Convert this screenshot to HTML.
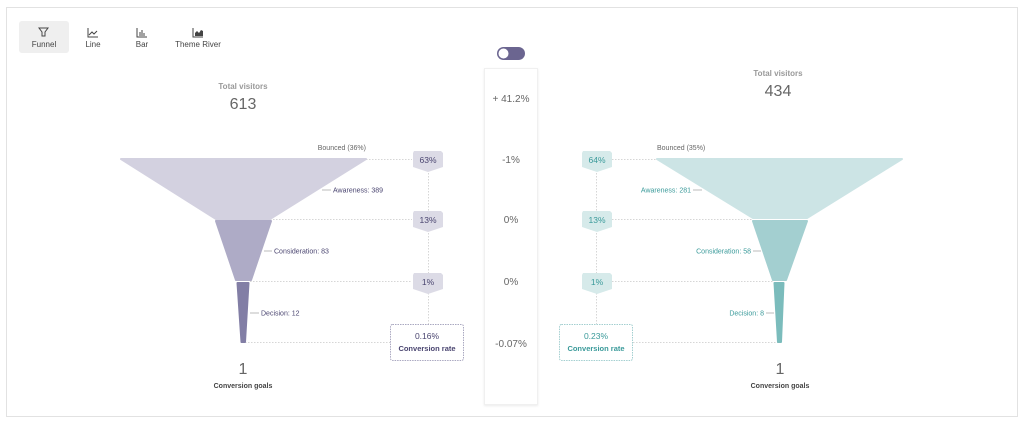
<!DOCTYPE html>
<html><head><meta charset="utf-8"><style>
html,body{margin:0;padding:0;background:#fff;}
svg{display:block;font-family:"Liberation Sans",sans-serif;}
</style></head><body>
<svg width="1024" height="424" viewBox="0 0 1024 424">
<rect x="6.5" y="7.5" width="1011" height="409" fill="#fff" stroke="#e2e2e2"/>
<rect x="19" y="21" width="50" height="32" rx="3" fill="#efefef"/>
<g stroke="#444" fill="none" stroke-width="1">
<path d="M39 28h9l-3 4v4h-3v-4z"/>
<path d="M88 28v9h10M89 35l3-3 2 2 3-3"/>
<path d="M137 28v9h10M140 36v-4M142 36v-6M144 36v-3"/>
<path d="M193 28v9h10"/>
</g>
<path d="M195 36v-3l2-2 2 2 2-3 2 1v5z" fill="#444"/>
<g font-size="8" fill="#444" text-anchor="middle">
<text x="44" y="47">Funnel</text><text x="93" y="47">Line</text><text x="142" y="47">Bar</text><text x="198" y="47">Theme River</text>
</g>
<rect x="497" y="47" width="28" height="13" rx="6.5" fill="#6b6590"/>
<circle cx="503.5" cy="53.5" r="5" fill="#fff"/>
<rect x="484.5" y="68.5" width="53" height="336" fill="#fff" stroke="#f0f0f0" style="filter:drop-shadow(0 1px 1px rgba(0,0,0,.08))"/>
<g font-size="10" fill="#666" text-anchor="middle">
<text x="511" y="102">+ 41.2%</text><text x="511" y="163">-1%</text><text x="511" y="223">0%</text><text x="511" y="285">0%</text><text x="511" y="347">-0.07%</text>
</g>
<text x="243" y="89" font-size="8" font-weight="bold" fill="#999" text-anchor="middle">Total visitors</text>
<text x="243" y="109" font-size="16" fill="#666" text-anchor="middle">613</text>
<g stroke="#d6d6d6" stroke-dasharray="1.5 1.5" stroke-width="1">
<path d="M366 159.5H412M270 219.5H412M250 281.5H412M245 342.5H390M428.5 167V324"/>
<path d="M596.5 167V324M612 159.5H657M612 219.5H753M612 281.5H774M633 342.5H779"/>
</g>
<path d="M121 159H366L270 219H216Z" fill="#d3d1e0" stroke="#d3d1e0" stroke-linejoin="round" stroke-width="2"/>
<path d="M216 221H271L251 280H236Z" fill="#aeabc6" stroke="#aeabc6" stroke-linejoin="round" stroke-width="2"/>
<path d="M237.5 283H248.5L245 342H241.5Z" fill="#827ea5" stroke="#827ea5" stroke-linejoin="round" stroke-width="2"/>
<text x="366" y="150" font-size="7" fill="#666" text-anchor="end">Bounced (36%)</text>
<g font-size="7" fill="#4a4570">
<path d="M322 190h9M264 251h8M250 313h9" stroke="#bbb"/>
<text x="333" y="192.5">Awareness: 389</text><text x="274" y="253.5">Consideration: 83</text><text x="261" y="315.5">Decision: 12</text>
</g>
<g fill="#dcdbe6">
<path d="M414 151h27l2 2v14l-15 5-15-5v-14z"/>
<path d="M414 211h27l2 2v14l-15 5-15-5v-14z"/>
<path d="M414 273h27l2 2v14l-15 5-15-5v-14z"/>
</g>
<g font-size="8.5" fill="#4a4570" text-anchor="middle">
<text x="428" y="163">63%</text><text x="428" y="223">13%</text><text x="428" y="285">1%</text>
</g>
<rect x="390.5" y="324.5" width="73" height="36" rx="2" fill="#fff" stroke="#aaa8c0" stroke-dasharray="1.5 1"/>
<text x="427" y="339" font-size="8.5" fill="#4a4570" text-anchor="middle">0.16%</text>
<text x="427" y="351" font-size="7.5" font-weight="bold" fill="#4a4570" text-anchor="middle">Conversion rate</text>
<text x="243" y="374" font-size="16" fill="#666" text-anchor="middle">1</text>
<text x="243" y="388" font-size="7" font-weight="bold" fill="#444" text-anchor="middle">Conversion goals</text>
<text x="778" y="76" font-size="8" font-weight="bold" fill="#999" text-anchor="middle">Total visitors</text>
<text x="778" y="96" font-size="16" fill="#666" text-anchor="middle">434</text>
<path d="M657 159H902L807 218H753Z" fill="#cce4e5" stroke="#cce4e5" stroke-linejoin="round" stroke-width="2"/>
<path d="M753 221H807L786 280H773Z" fill="#a3cfd0" stroke="#a3cfd0" stroke-linejoin="round" stroke-width="2"/>
<path d="M774.5 283H783.5L781 342H778Z" fill="#7bbcbc" stroke="#7bbcbc" stroke-linejoin="round" stroke-width="2"/>
<text x="657" y="150" font-size="7" fill="#666">Bounced (35%)</text>
<g font-size="7" fill="#3a9a9a" text-anchor="end">
<path d="M693 190h9M753 251h8M766 313h8" stroke="#bbb"/>
<text x="691" y="192.5">Awareness: 281</text><text x="751" y="253.5">Consideration: 58</text><text x="764" y="315.5">Decision: 8</text>
</g>
<g fill="#d6eaea">
<path d="M583 151h27l2 2v14l-15 5-15-5v-14z"/>
<path d="M583 211h27l2 2v14l-15 5-15-5v-14z"/>
<path d="M583 273h27l2 2v14l-15 5-15-5v-14z"/>
</g>
<g font-size="8.5" fill="#3a9a9a" text-anchor="middle">
<text x="597" y="163">64%</text><text x="597" y="223">13%</text><text x="597" y="285">1%</text>
</g>
<rect x="559.5" y="324.5" width="73" height="36" rx="2" fill="#fff" stroke="#a3cfd0" stroke-dasharray="1.5 1"/>
<text x="596" y="339" font-size="8.5" fill="#3a9a9a" text-anchor="middle">0.23%</text>
<text x="596" y="351" font-size="7.5" font-weight="bold" fill="#3a9a9a" text-anchor="middle">Conversion rate</text>
<text x="780" y="374" font-size="16" fill="#666" text-anchor="middle">1</text>
<text x="780" y="388" font-size="7" font-weight="bold" fill="#444" text-anchor="middle">Conversion goals</text>
</svg>
</body></html>
